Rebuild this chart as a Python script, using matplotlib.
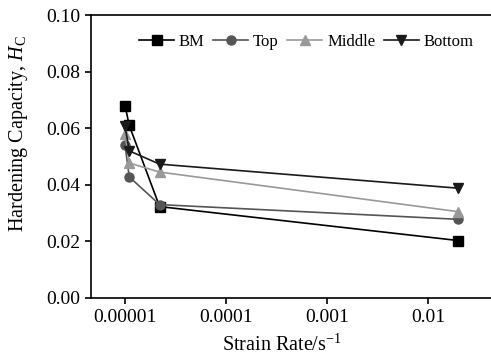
import numpy as np
import matplotlib
matplotlib.use("Agg")
import matplotlib.pyplot as plt
from matplotlib.ticker import FixedLocator, FixedFormatter, NullLocator

plt.rcParams['font.family'] = ['Liberation Serif', 'DejaVu Serif']
plt.rcParams['mathtext.fontset'] = 'custom'
plt.rcParams['mathtext.rm'] = 'Liberation Serif'
plt.rcParams['mathtext.it'] = 'Liberation Serif:italic'

# data
strain_rate = [1.0e-5, 1.1e-5, 2.2e-5, 0.02]
bm = [0.068, 0.061, 0.0323, 0.0203]
top = [0.054, 0.0428, 0.033, 0.0278]
middle = [0.058, 0.0477, 0.0445, 0.0305]
bottom = [0.0607, 0.052, 0.0473, 0.0388]

x_ticks = [1e-5, 1e-4, 1e-3, 1e-2]
x_tick_labels = ["0.00001", "0.0001", "0.001", "0.01"]
y_ticks = [0.00, 0.02, 0.04, 0.06, 0.08, 0.10]

fig = plt.figure(figsize=(4.91, 3.58), dpi=100)
ax = fig.add_axes([91/491, 60/358, 1 - 91/491, 283/358])

ax.plot(strain_rate, bm, color='black', marker='s', markersize=6.5, linewidth=1.2, label='BM')
ax.plot(strain_rate, top, color='#555555', marker='o', markersize=6.5, linewidth=1.2, label='Top')
ax.plot(strain_rate, middle, color='#999999', marker='^', markersize=6.5, linewidth=1.2, label='Middle')
ax.plot(strain_rate, bottom, color='#1a1a1a', marker='v', markersize=6.5, linewidth=1.2, label='Bottom')

ax.set_xscale('log')
ax.set_xlim(4.6e-6, 0.0422)
ax.set_ylim(0, 0.10)
ax.xaxis.set_major_locator(FixedLocator(x_ticks))
ax.xaxis.set_major_formatter(FixedFormatter(x_tick_labels))
ax.xaxis.set_minor_locator(NullLocator())
ax.set_yticks(y_ticks)
ax.set_yticklabels(["%.2f" % v for v in y_ticks])

ax.spines['right'].set_visible(False)
for s in ['left', 'bottom', 'top']:
    ax.spines[s].set_linewidth(1.2)
ax.tick_params(direction='out', length=4, width=1.2, labelsize=14, pad=4)
ax.tick_params(top=False, right=False)

ax.set_xlabel(r'Strain Rate/s$^{\mathregular{-1}}$', fontsize=14.5, labelpad=0)
ax.xaxis.set_label_coords((282 - 91) / 400, -0.128)
ax.set_ylabel(r'Hardening Capacity, $\mathit{H}_\mathrm{C}$', fontsize=14.5)
ax.yaxis.set_label_coords(-0.152, 0.581)

ax.legend(loc='center left', bbox_to_anchor=(0.12, 0.905), ncol=4, frameon=False,
          fontsize=12, handlelength=2.1, handletextpad=0.3, columnspacing=0.5,
          borderpad=0, borderaxespad=0)

fig.savefig('out.png', dpi=100)
